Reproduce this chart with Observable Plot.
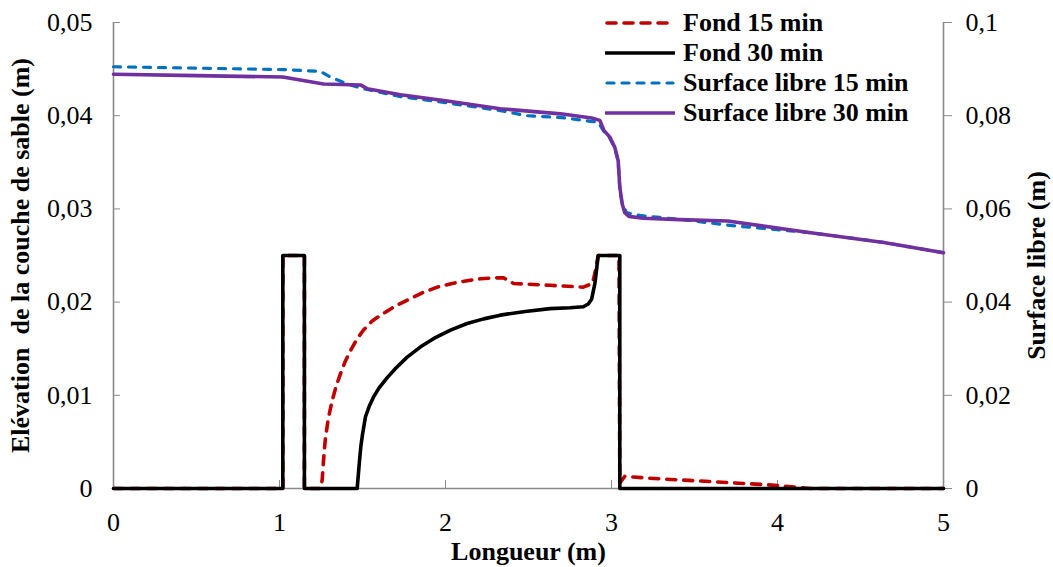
<!DOCTYPE html>
<html>
<head>
<meta charset="utf-8">
<script src="https://cdn.jsdelivr.net/npm/d3@7"></script>
<script src="https://cdn.jsdelivr.net/npm/@observablehq/plot@0.6"></script>
<style>
  html, body { margin: 0; padding: 0; background: #fff; }
  #wrap { position: relative; width: 1053px; height: 567px; font-family: "Liberation Serif", "Times New Roman", serif; }
  #legend { position: absolute; left: 605px; top: 8px; font-weight: bold; font-size: 26px; color: #000; }
  .row { display: flex; align-items: center; height: 30px; line-height: 30px; white-space: nowrap; }
  .row svg { width: 70px; height: 30px; margin-right: 8px; flex: none; }
</style>
</head>
<body>
<div id="wrap"><div id="legend"></div></div>
<script>
// ---- Data (x in m) ----
const xTicks = [0, 1, 2, 3, 4, 5];
const leftTicks = [0, 0.01, 0.02, 0.03, 0.04, 0.05];      // Elévation (m)
const rightTicks = [0, 0.02, 0.04, 0.06, 0.08, 0.1];      // Surface libre (m)

const fond15X = [0, 1.02, 1.02, 1.15, 1.15, 1.247, 1.257, 1.265, 1.277, 1.295, 1.317, 1.34, 1.367, 1.395, 1.428, 1.465, 1.506, 1.56, 1.627, 1.70, 1.77, 1.86, 1.95, 2.04, 2.13, 2.21, 2.29, 2.35, 2.41, 2.63, 2.83, 2.885, 2.90, 2.92, 3.045, 3.05, 3.08, 3.23, 3.64, 3.94, 4.14, 4.2, 5];
const fond15Y = [0, 0, 0.025, 0.025, 0, 0, 0.0009, 0.0030, 0.0055, 0.0076, 0.0094, 0.0109, 0.0123, 0.0136, 0.0148, 0.0160, 0.0170, 0.0180, 0.0188, 0.0196, 0.0202, 0.0210, 0.0216, 0.0220, 0.0223, 0.0225, 0.0226, 0.0226, 0.0220, 0.0218, 0.0216, 0.0220, 0.0231, 0.025, 0.025, 0.0006, 0.0013, 0.0011, 0.0007, 0.0004, 0.0001, 0, 0];

const fond30X = [0, 1.02, 1.02, 1.15, 1.15, 1.468, 1.475, 1.482, 1.49, 1.50, 1.518, 1.54, 1.566, 1.60, 1.649, 1.70, 1.769, 1.85, 1.93, 2.03, 2.13, 2.23, 2.33, 2.48, 2.63, 2.75, 2.83, 2.86, 2.88, 2.90, 2.92, 3.05, 3.05, 5];
const fond30Y = [0, 0, 0.025, 0.025, 0, 0, 0.0015, 0.0030, 0.0045, 0.0058, 0.0077, 0.0088, 0.0098, 0.0108, 0.0119, 0.0129, 0.0141, 0.0152, 0.0161, 0.0170, 0.0177, 0.0182, 0.0186, 0.0190, 0.0193, 0.0194, 0.0195, 0.0198, 0.0203, 0.0220, 0.025, 0.025, 0, 0];

const surf15X = [0, 1.02, 1.247, 1.307, 1.408, 1.506, 1.729, 2.0, 2.33, 2.49, 2.7, 2.873, 2.92, 2.955, 2.99, 3.02, 3.04, 3.05, 3.064, 3.09, 3.17, 3.45, 3.73, 4.2, 4.64, 5];
const surf15Y = [0.0905, 0.0899, 0.0895, 0.0883, 0.0868, 0.0858, 0.0841, 0.0828, 0.0811, 0.0800, 0.0796, 0.0788, 0.0786, 0.0766, 0.0752, 0.0730, 0.0702, 0.0645, 0.0612, 0.0592, 0.0586, 0.0576, 0.0564, 0.0549, 0.0528, 0.0506];

const surf30X = [0, 0.5, 1.02, 1.265, 1.488, 1.528, 1.729, 2.0, 2.33, 2.693, 2.88, 2.93, 2.955, 2.99, 3.02, 3.04, 3.05, 3.064, 3.08, 3.105, 3.19, 3.41, 3.70, 4.2, 4.64, 5];
const surf30Y = [0.0889, 0.0886, 0.0883, 0.0868, 0.0866, 0.0858, 0.0845, 0.0832, 0.0815, 0.0804, 0.0795, 0.0790, 0.0768, 0.0754, 0.0732, 0.0704, 0.0647, 0.0611, 0.0592, 0.0584, 0.0580, 0.0577, 0.0574, 0.0549, 0.0528, 0.0506];

const seriesNames = ["Fond 15 min", "Fond 30 min", "Surface libre 15 min", "Surface libre 30 min"];
const seriesColors = ["#C00000", "#000000", "#0070C0", "#7030A0"];

// ---- Build tables ----
const toRows = (xs, ys, scale = 1) => xs.map((x, i) => ({x, y: ys[i] * scale}));
const fond15 = toRows(fond15X, fond15Y);
const fond30 = toRows(fond30X, fond30Y);
const surf15 = toRows(surf15X, surf15Y, 0.5); // right axis is twice the left
const surf30 = toRows(surf30X, surf30Y, 0.5);

const fmt = v => String(Math.round(v * 1000) / 1000).replace(".", ",");
const axisGray = "#8a8a8a";
const styles = [
  {strokeWidth: 3.6, strokeDasharray: "9,8", strokeLinecap: "round"},
  {strokeWidth: 3.6},
  {strokeWidth: 3.2, strokeDasharray: "7,8", strokeLinecap: "round"},
  {strokeWidth: 3.6}
];
const titleFont = {fontWeight: "bold", fontSize: 26, fill: "#000", textAnchor: "middle", lineAnchor: "middle"};

const chart = Plot.plot({
  width: 1053,
  height: 567,
  marginLeft: 113,
  marginRight: 110,
  marginTop: 22,
  marginBottom: 79,
  style: {fontFamily: "'Liberation Serif', 'Times New Roman', serif", fontSize: "26px", color: "#000", background: "#fff"},
  x: {domain: [0, 5]},
  y: {domain: [0, 0.05]},
  marks: [
    Plot.ruleX([0, 5], {stroke: axisGray, strokeWidth: 1.6}),
    Plot.ruleY([0], {stroke: axisGray, strokeWidth: 1.6}),
    Plot.axisX(xTicks, {tickSize: -8, tickPadding: 32, stroke: axisGray, fill: "#000", label: null, tickFormat: d => String(d)}),
    Plot.axisY(leftTicks, {anchor: "left", tickSize: -7, tickPadding: 28, stroke: axisGray, fill: "#000", label: null, tickFormat: fmt}),
    Plot.axisY(rightTicks.map(v => v / 2), {anchor: "right", tickSize: 8, tickPadding: 14, stroke: axisGray, fill: "#000", label: null, tickFormat: d => fmt(d * 2)}),
    Plot.line(fond15, {x: "x", y: "y", stroke: seriesColors[0], ...styles[0], strokeLinejoin: "round"}),
    Plot.line(fond30, {x: "x", y: "y", stroke: seriesColors[1], ...styles[1], strokeLinejoin: "round"}),
    Plot.line(surf15, {x: "x", y: "y", stroke: seriesColors[2], ...styles[2], strokeLinejoin: "round"}),
    Plot.line(surf30, {x: "x", y: "y", stroke: seriesColors[3], ...styles[3], strokeLinejoin: "round"}),
    Plot.text(["Elévation  de la couche de sable (m)"], {text: d => d, frameAnchor: "left", dx: -93, rotate: -90, ...titleFont}),
    Plot.text(["Surface libre (m)"], {text: d => d, frameAnchor: "right", dx: 93, dy: 10, rotate: -90, ...titleFont}),
    Plot.text(["Longueur (m)"], {text: d => d, frameAnchor: "bottom", dy: 63, ...titleFont})
  ]
});
document.getElementById("wrap").prepend(chart);

// ---- Legend ----
const legend = document.getElementById("legend");
seriesNames.forEach((name, i) => {
  const s = styles[i];
  const row = document.createElement("div");
  row.className = "row";
  row.innerHTML = `<svg viewBox="0 0 70 30"><line x1="${s.strokeLinecap ? 2 : 0}" y1="15" x2="${s.strokeLinecap ? 68 : 70}" y2="15" stroke="${seriesColors[i]}" stroke-width="${s.strokeWidth}" ${s.strokeDasharray ? `stroke-dasharray="${s.strokeDasharray}"` : ""} stroke-linecap="${s.strokeLinecap || "butt"}"/></svg><span>${name}</span>`;
  legend.appendChild(row);
});
</script>
</body>
</html>
